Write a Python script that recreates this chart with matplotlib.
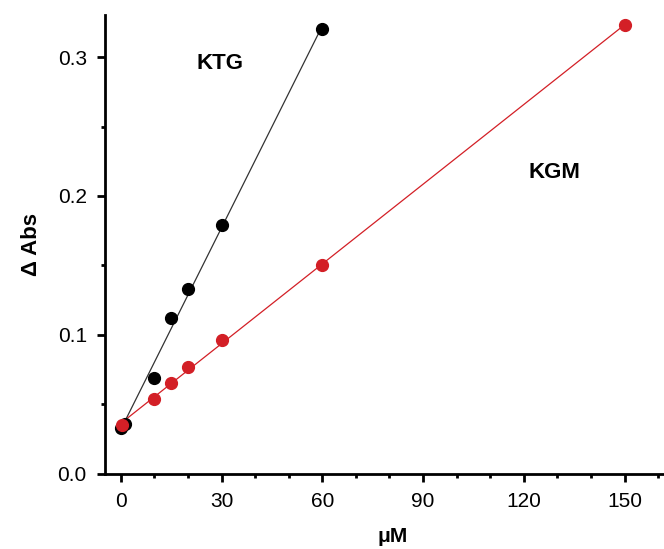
import numpy as np
import matplotlib.pyplot as plt
from matplotlib.ticker import MultipleLocator

plt.rcParams["font.family"] = ["Liberation Sans", "DejaVu Sans"]

# KTG series (black)
ktg_conc = [0, 1.2, 10, 15, 20, 30, 60]
ktg_abs = [0.033, 0.036, 0.069, 0.112, 0.133, 0.179, 0.320]

# KGM series (red)
kgm_conc = [0.5, 10, 15, 20, 30, 60, 150]
kgm_abs = [0.035, 0.054, 0.065, 0.077, 0.096, 0.150, 0.323]

red = "#d31f26"

fig = plt.figure(figsize=(6.64, 5.49), dpi=100)
ax = fig.add_axes([0.158, 0.137, 0.842, 0.835])

# linear fits
k_fit = np.polyfit(ktg_conc, ktg_abs, 1)
xk = np.array([ktg_conc[1], ktg_conc[-1]])
ax.plot(xk, np.polyval(k_fit, xk), color="#333333", lw=0.9, zorder=2)

g_fit = np.polyfit(kgm_conc, kgm_abs, 1)
xg = np.array([kgm_conc[0], kgm_conc[-1]])
ax.plot(xg, np.polyval(g_fit, xg), color=red, lw=0.9, zorder=2)

ax.plot(ktg_conc, ktg_abs, "o", color="black", ms=8.5, zorder=3)
ax.plot(kgm_conc, kgm_abs, "o", color=red, ms=8.5, zorder=3)

ax.text(29.5, 0.295, "KTG", fontsize=16, fontweight="bold", ha="center", va="center")
ax.text(129, 0.217, "KGM", fontsize=16, fontweight="bold", ha="center", va="center")

ax.set_xlim(-4.7, 161.7)
ax.set_ylim(0, 0.33)
ax.xaxis.set_major_locator(MultipleLocator(30))
ax.xaxis.set_minor_locator(MultipleLocator(10))
ax.yaxis.set_major_locator(MultipleLocator(0.1))
ax.yaxis.set_minor_locator(MultipleLocator(0.05))
ax.set_xticks([0, 30, 60, 90, 120, 150])
ax.set_yticks([0.0, 0.1, 0.2, 0.3])
ax.set_yticklabels(["0.0", "0.1", "0.2", "0.3"])

for s in ["top", "right"]:
    ax.spines[s].set_visible(False)
for s in ["left", "bottom"]:
    ax.spines[s].set_linewidth(2)

ax.tick_params(which="major", direction="out", length=6, width=2, labelsize=15, pad=7)
ax.tick_params(which="minor", direction="out", length=3, width=2)

ax.set_xlabel("μM", fontsize=15, fontweight="bold")
ax.set_ylabel("Δ Abs", fontsize=16, fontweight="bold")
ax.xaxis.set_label_coords(0.515, -0.115)
ax.yaxis.set_label_coords(-0.113, 0.5)

fig.savefig("out.png", dpi=100)
